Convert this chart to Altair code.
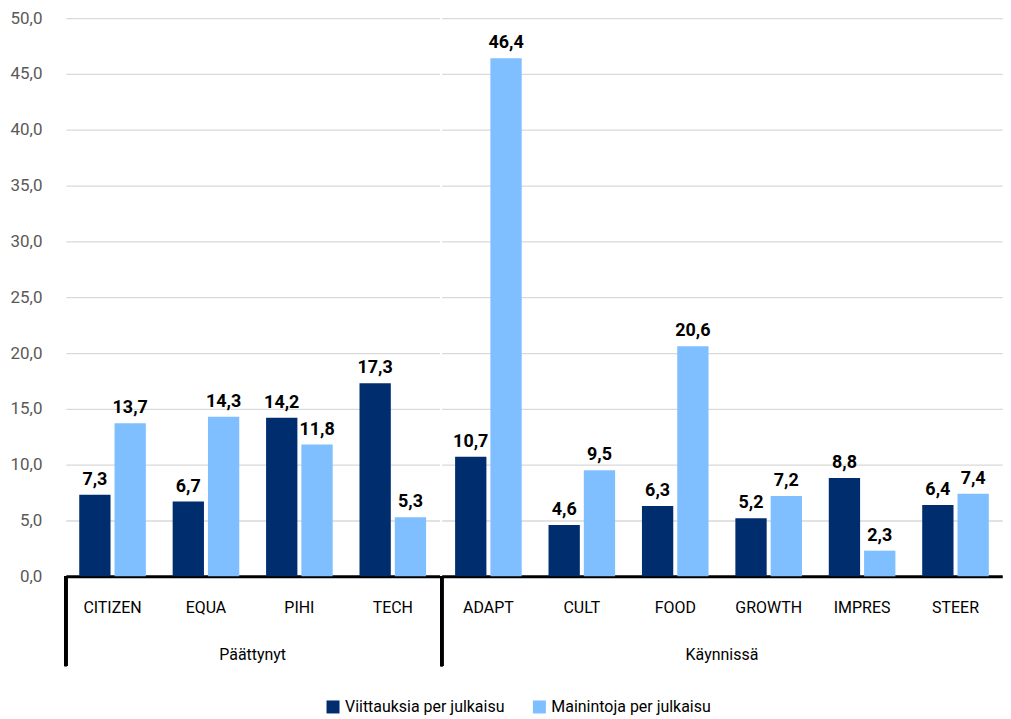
import altair as alt
import pandas as pd

categories = ["CITIZEN", "EQUA", "PIHI", "TECH", "ADAPT", "CULT", "FOOD", "GROWTH", "IMPRES", "STEER"]
groups = ["Päättynyt"] * 4 + ["Käynnissä"] * 6
group_order = ["Päättynyt", "Käynnissä"]
series_names = ["Viittauksia per julkaisu", "Mainintoja per julkaisu"]
viittauksia = [7.3, 6.7, 14.2, 17.3, 10.7, 4.6, 6.3, 5.2, 8.8, 6.4]
mainintoja = [13.7, 14.3, 11.8, 5.3, 46.4, 9.5, 20.6, 7.2, 2.3, 7.4]
colors = ["#002D6E", "#7FBFFF"]

rows = []
for c, g, v1, v2 in zip(categories, groups, viittauksia, mainintoja):
    rows.append({"cat": c, "group": g, "series": series_names[0], "value": v1})
    rows.append({"cat": c, "group": g, "series": series_names[1], "value": v2})
df = pd.DataFrame(rows)

FONT = "Roboto"
H = 560

x_enc = alt.X("cat:N", sort=categories, title=None,
              scale=alt.Scale(paddingInner=0, paddingOuter=0),
              axis=alt.Axis(labelAngle=0, ticks=False, labelPadding=23, labelFontSize=16,
                            labelColor="#000000", domainColor="#000000", domainWidth=3,
                            labelFont=FONT))
xoff = alt.XOffset("series:N", sort=series_names,
                   scale=alt.Scale(paddingInner=0.113, paddingOuter=0.38))
y_enc = alt.Y("value:Q", title=None,
              scale=alt.Scale(domain=[0, 50]),
              axis=alt.Axis(values=list(range(0, 51, 5)), ticks=False, domain=False,
                            labelPadding=22, labelFontSize=17, labelColor="#595959",
                            labelExpr="replace(format(datum.value, '.1f'), '.', ',')",
                            gridColor="#D9D9D9", gridWidth=1.3, labelFont=FONT))

base = alt.Chart()

bars = base.mark_bar().encode(
    x=x_enc, xOffset=xoff, y=y_enc,
    color=alt.Color("series:N", sort=series_names, title=None,
                    scale=alt.Scale(domain=series_names, range=colors),
                    legend=alt.Legend(orient="none", legendX=260, legendY=683,
                                      direction="horizontal",
                                      symbolType="square", symbolSize=170,
                                      labelFontSize=16, labelFont=FONT, labelLimit=400,
                                      labelColor="#000000", columnPadding=26,
                                      symbolStrokeWidth=0)),
)

labels = base.mark_text(fontWeight="bold", fontSize=18, font=FONT, dy=-10,
                        baseline="alphabetic", color="#000000").encode(
    x=alt.X("cat:N", sort=categories), xOffset=alt.XOffset("series:N", sort=series_names),
    y="value:Q",
    text="label:N",
).transform_calculate(label="replace(format(datum.value, '.1f'), '.', ',')")

divider = base.mark_rule(color="#000000", strokeWidth=3).encode(
    x=alt.value(0), y=alt.value(H), y2=alt.value(H + 90)
)

chart = alt.layer(bars, labels, divider, data=df).properties(
    width=alt.Step(35.4), height=H
).facet(
    column=alt.Column("group:N", sort=group_order, title=None,
                      header=alt.Header(labelOrient="bottom", labelFontSize=16,
                                        labelFont=FONT, labelColor="#000000",
                                        labelPadding=-21))
).resolve_scale(x="independent").properties(
    spacing=0, padding={"left": 1, "top": 0, "right": 0, "bottom": 0}
).configure_view(stroke=None).configure_facet(spacing=0)

chart.save("out.html", embed_options={"renderer": "svg", "actions": False})
